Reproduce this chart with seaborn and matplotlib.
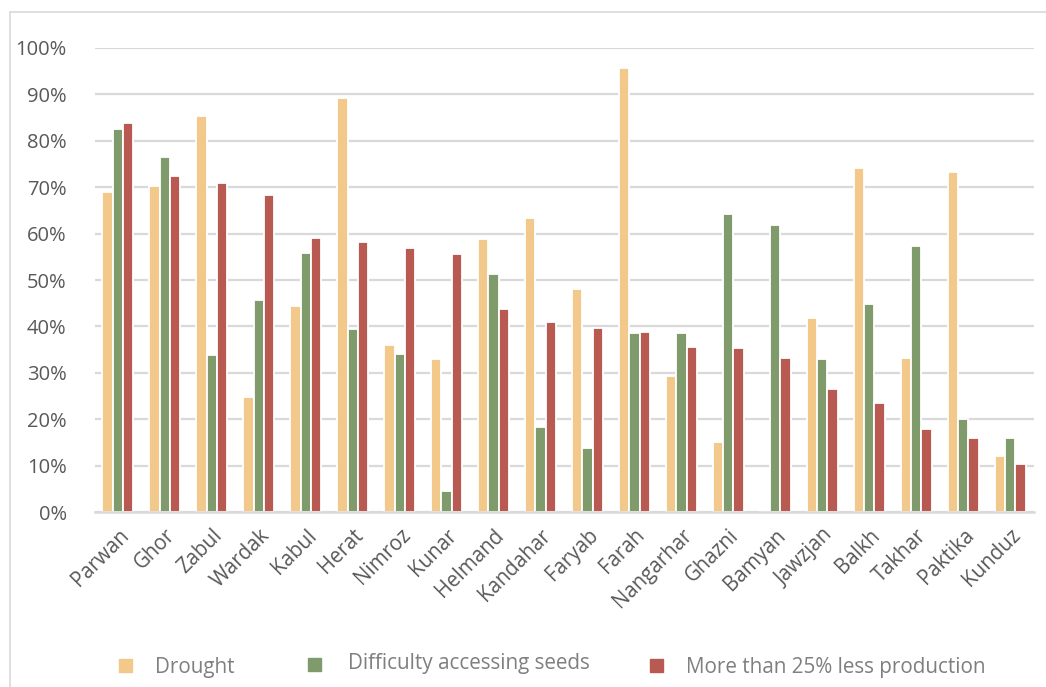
import matplotlib
matplotlib.use("Agg")
import matplotlib.pyplot as plt
from matplotlib.patches import Rectangle
from matplotlib.lines import Line2D
from matplotlib.ticker import PercentFormatter
import seaborn as sns
import pandas as pd

provinces = ["Parwan", "Ghor", "Zabul", "Wardak", "Kabul", "Herat", "Nimroz", "Kunar",
             "Helmand", "Kandahar", "Faryab", "Farah", "Nangarhar", "Ghazni", "Bamyan",
             "Jawzjan", "Balkh", "Takhar", "Paktika", "Kunduz"]
drought = [68.9, 70.2, 85.4, 24.8, 44.3, 89.2, 36.0, 33.0, 58.8, 63.3,
           48.1, 95.6, 29.3, 15.1, 0.3, 41.8, 74.2, 33.2, 73.2, 12.2]
seeds = [82.4, 76.5, 33.8, 45.6, 55.8, 39.5, 34.1, 4.5, 51.3, 18.4,
         13.8, 38.5, 38.5, 64.2, 61.9, 32.9, 44.9, 57.3, 20.0, 16.0]
less_prod = [83.7, 72.4, 70.8, 68.4, 59.1, 58.2, 56.8, 55.7, 43.8, 41.0,
             39.6, 38.7, 35.5, 35.4, 33.2, 26.5, 23.5, 17.9, 15.9, 10.5]
series_names = ["Drought", "Difficulty accessing seeds", "More than 25% less production"]
colors = ["#F2C98B", "#7F9B6C", "#B85A52"]

rows = []
for name, vals in zip(series_names, [drought, seeds, less_prod]):
    for p, v in zip(provinces, vals):
        rows.append({"Province": p, "Series": name, "Value": v / 100.0})
df = pd.DataFrame(rows)

sns.set_theme(style="white")
plt.rcParams["font.family"] = ["Open Sans", "DejaVu Sans"]

W, H = 1046, 687
fig = plt.figure(figsize=(W / 100, H / 100), dpi=100)
ax = fig.add_axes([94.5 / W, 1 - 512.3 / H, (1033.5 - 94.5) / W, (512.3 - 47.7) / H])

sns.barplot(data=df, x="Province", y="Value", hue="Series", order=provinces,
            hue_order=series_names, palette=colors, saturation=1, width=0.66, ax=ax,
            edgecolor="white", linewidth=1.3, legend=False, errorbar=None, zorder=3)

ax.set_ylim(0, 1.0)
ax.set_xlim(-0.5, len(provinces) - 0.5)
ax.set_yticks([i / 10 for i in range(11)])
ax.yaxis.set_major_formatter(PercentFormatter(1.0, decimals=0))
ax.grid(axis="y", color="#D9D9D9", linewidth=1.6, zorder=0)
ax.grid(axis="x", visible=False)
for s in ["top", "right", "left"]:
    ax.spines[s].set_visible(False)
ax.spines["bottom"].set_color("#D9D9D9")
ax.spines["bottom"].set_linewidth(1.8)
ax.spines["bottom"].set_zorder(4)
ax.set_xlabel("")
ax.set_ylabel("")
ax.tick_params(axis="y", length=0, pad=20, labelsize=14.5, labelcolor="#595959")
ax.tick_params(axis="x", length=0, pad=9, labelsize=14.8, labelcolor="#595959")
plt.setp(ax.get_xticklabels(), rotation=45, ha="right", rotation_mode="anchor")

# chart frame
fig.add_artist(Line2D([10 / W, 10 / W], [0, 1 - 12 / H], transform=fig.transFigure,
                      color="#D9D9D9", linewidth=1.2))
fig.add_artist(Line2D([10 / W, 1], [1 - 12 / H, 1 - 12 / H], transform=fig.transFigure,
                      color="#D9D9D9", linewidth=1.2))

# legend
leg_items = [(119, 659, 155, 667), (308, 658, 348, 663), (650, 659, 686, 668)]
for (sx, sy, tx, ty), name, c in zip(leg_items, series_names, colors):
    fig.add_artist(Rectangle((sx / W, 1 - (sy + 13) / H), 13 / W, 13 / H,
                             transform=fig.transFigure, color=c))
    fig.text(tx / W, 1 - ty / H, name, fontsize=14.9, color="#7F7F7F",
             ha="left", va="center")

fig.savefig("out.png", dpi=100)
